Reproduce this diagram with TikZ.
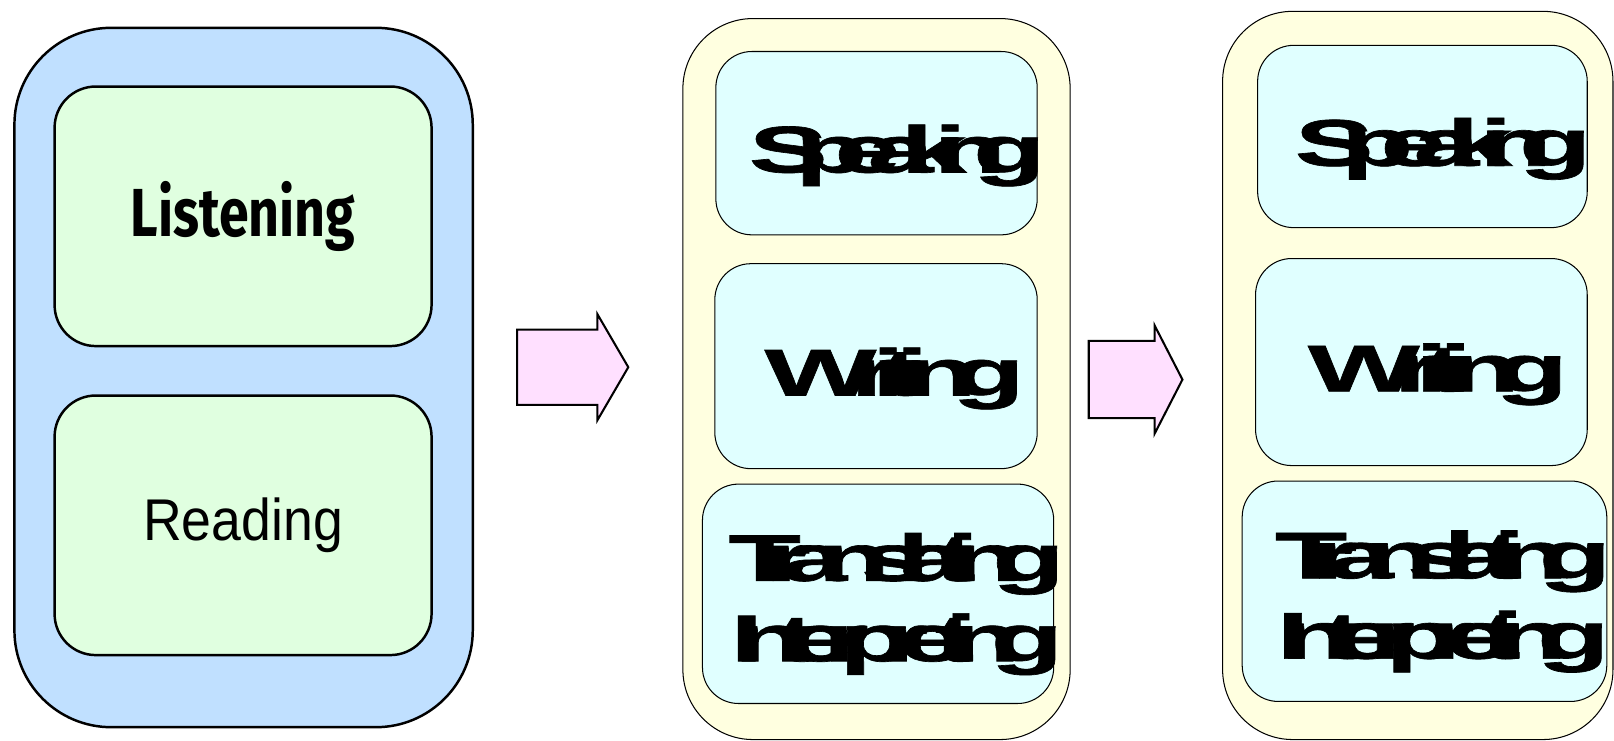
\documentclass[tikz,border=0pt]{standalone}
\usepackage{fontspec}
\usepackage{tikz}
\usetikzlibrary{positioning}
\newfontfamily\listenfont[FakeStretch=0.79]{Fira Sans}
\newfontfamily\readfont[FakeStretch=0.91]{Liberation Sans}
\newfontfamily\skillfont[FakeStretch=1.8,FakeBold=1,LetterSpace=-45]{Liberation Sans}
\definecolor{inputbg}{RGB}{192,224,255}
\definecolor{inputbox}{RGB}{224,255,224}
\definecolor{outputbg}{RGB}{255,255,224}
\definecolor{outputbox}{RGB}{224,255,255}
\definecolor{arrowfill}{RGB}{255,224,255}
\tikzset{
    inpanel/.style={rectangle, rounded corners=47pt, minimum width=222.5pt, minimum height=339.5pt, draw, line width=1.2pt, fill=inputbg},
    inskill/.style={rectangle, rounded corners=20pt, minimum width=183pt, minimum height=126pt, text centered, draw, line width=1.2pt, fill=inputbox},
    outpanel/.style={rectangle, rounded corners=34pt, minimum width=188pt, draw, line width=0.5pt, fill=outputbg},
    outskill/.style={rectangle, rounded corners=17.5pt, draw, line width=0.5pt, fill=outputbox},
    skilltext/.style={inner sep=0pt, align=center, font=\skillfont\bfseries\fontsize{32}{39}\selectfont},
    blockarrow/.style={draw, line width=1pt, fill=arrowfill, line join=miter}
}
\newcommand{\wideskill}[1]{\addfontfeatures{LetterSpace=-37}#1}
\newcommand{\tightskill}[1]{\addfontfeatures{LetterSpace=-50}#1}
\begin{document}
\begin{tikzpicture}[x=0.5pt, y=-0.5pt]
    \useasboundingbox (0,0) rectangle (1567,718.5);

    % Receptive skills
    \node[inpanel] (receptive) at (236.5,366.5) {};
    \node[inskill, font=\listenfont\bfseries\fontsize{33}{38}\selectfont] (listening) at (236,210) {Listening};
    \node[inskill, font=\readfont\fontsize{28.6}{34}\selectfont] (reading) at (236,510) {Reading};

    % First arrow
    \draw[blockarrow] (502,320) -- (580,320) -- (580,305) -- (610,356.5) -- (580,408) -- (580,393) -- (502,393) -- cycle;

    % Productive skills
    \node[outpanel, minimum height=350pt] (productive) at (851,368) {};
    \node[outskill, minimum width=156pt, minimum height=89pt] (speaking) at (851,139) {};
    \node[outskill, minimum width=156.5pt, minimum height=99.5pt] (writing) at (850.5,355.5) {};
    \node[outskill, minimum width=170.5pt, minimum height=106.5pt] (translating) at (852.5,576.5) {};
    \node[skilltext] (speaking_text) at ([xshift=10pt, yshift=-6pt]speaking.center) {\tightskill{Speaking}};
    \node[skilltext] (writing_text) at ([xshift=9pt, yshift=-6pt]writing.center) {\wideskill{Writing}};
    \node[skilltext] (translating_text) at ([xshift=9pt, yshift=-5pt]translating.center) {Translating\\Interpreting};

    % Second arrow
    \draw[blockarrow] (1057,331) -- (1121,331) -- (1121,316) -- (1148,368.5) -- (1121,421) -- (1121,406) -- (1057,406) -- cycle;

    % Productive skills again
    \node[outpanel, minimum width=189.5pt, minimum height=353.5pt] (productive2) at (1376.5,364.5) {};
    \node[outskill, minimum width=160pt, minimum height=88.5pt] (speaking2) at (1381,132.5) {};
    \node[outskill, minimum width=161pt, minimum height=100.5pt] (writing2) at (1380,351.5) {};
    \node[outskill, minimum width=177pt, minimum height=107pt] (translating2) at (1383,574) {};
    \node[skilltext] (speaking2_text) at ([xshift=10pt, yshift=-6pt]speaking2.center) {\tightskill{Speaking}};
    \node[skilltext] (writing2_text) at ([xshift=8pt, yshift=-6pt]writing2.center) {\wideskill{Writing}};
    \node[skilltext] (translating2_text) at ([xshift=9pt, yshift=-5pt]translating2.center) {Translating\\Interpreting};
\end{tikzpicture}
\end{document}
